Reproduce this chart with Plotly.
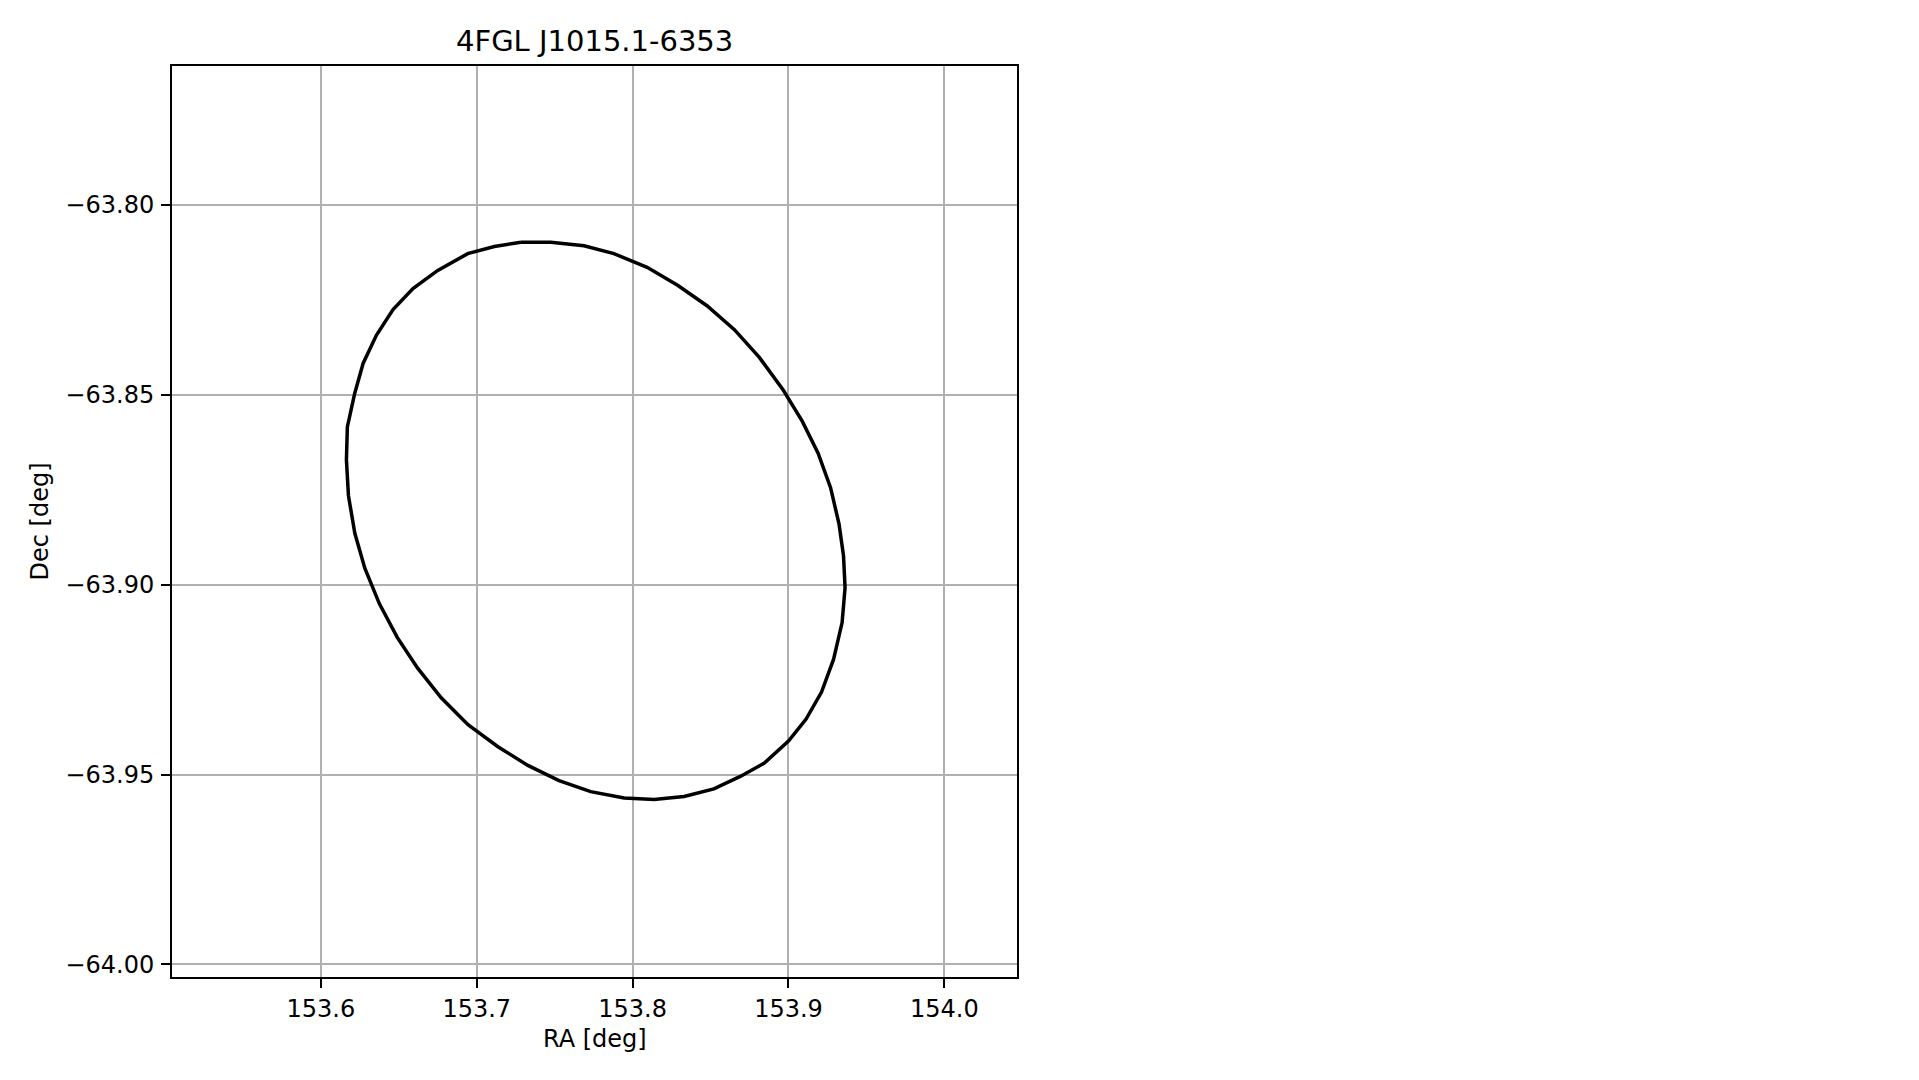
import plotly.graph_objects as go

title_text = "4FGL J1015.1-6353"

ra_deg = [153.7283, 153.7475, 153.7688, 153.7880, 153.8093, 153.8291, 153.8477, 153.8653,
          153.8813, 153.8966, 153.9088, 153.9190, 153.9270, 153.9324, 153.9353, 153.9363,
          153.9344, 153.9289, 153.9212, 153.9113, 153.9000, 153.8845, 153.8691, 153.8521,
          153.8330, 153.8138, 153.7946, 153.7731, 153.7528, 153.7328, 153.7136, 153.6944,
          153.6772, 153.6621, 153.6490, 153.6375, 153.6282, 153.6218, 153.6177, 153.6164,
          153.6170, 153.6217, 153.6271, 153.6356, 153.6463, 153.6591, 153.6750, 153.6942,
          153.7113, 153.7283]
dec_deg = [-63.8099, -63.8099, -63.8108, -63.8129, -63.8165, -63.8213, -63.8266, -63.8329,
           -63.8402, -63.8488, -63.8570, -63.8654, -63.8745, -63.8840, -63.8924, -63.9008,
           -63.9100, -63.9197, -63.9283, -63.9354, -63.9412, -63.9470, -63.9505, -63.9538,
           -63.9558, -63.9566, -63.9562, -63.9545, -63.9516, -63.9476, -63.9427, -63.9369,
           -63.9298, -63.9220, -63.9139, -63.9050, -63.8957, -63.8865, -63.8766, -63.8672,
           -63.8585, -63.8497, -63.8418, -63.8344, -63.8276, -63.8221, -63.8173, -63.8129,
           -63.8110, -63.8099]

x_tickvals = [153.6, 153.7, 153.8, 153.9, 154.0]
x_ticktext = ["153.6", "153.7", "153.8", "153.9", "154.0"]
y_tickvals = [-63.80, -63.85, -63.90, -63.95, -64.00]
y_ticktext = ["\u221263.80", "\u221263.85", "\u221263.90", "\u221263.95", "\u221264.00"]

x_range = [153.5045, 154.0466]
y_range = [-64.0033, -63.7635]

FONT = "DejaVu Sans"

fig = go.Figure()
fig.add_trace(go.Scatter(
    x=ra_deg, y=dec_deg, mode="lines",
    line=dict(color="black", width=3.5),
    showlegend=False, hoverinfo="skip",
))

axis_common = dict(
    showline=True, linecolor="black", linewidth=2, mirror=True,
    showgrid=True, gridcolor="#b0b0b0", gridwidth=2,
    zeroline=False,
    ticks="outside", ticklen=9, tickwidth=2, tickcolor="black",
    tickfont=dict(family=FONT, size=24, color="black"),
)

fig.update_layout(
    width=1919, height=1080,
    paper_bgcolor="white", plot_bgcolor="white",
    margin=dict(l=164, r=910, t=58, b=111),
    font=dict(family=FONT, color="black"),
    xaxis=dict(range=x_range, tickvals=x_tickvals, ticktext=x_ticktext,
               ticklabelstandoff=0, **axis_common),
    yaxis=dict(range=y_range, tickvals=y_tickvals, ticktext=y_ticktext,
               ticklabelstandoff=2, **axis_common),
    annotations=[
        dict(text=title_text, xref="paper", yref="paper", x=0.5, y=1,
             yshift=25, showarrow=False, xanchor="center", yanchor="middle",
             font=dict(family=FONT, size=29, color="black")),
        dict(text="RA [deg]", xref="paper", yref="paper", x=0.5, y=0,
             yshift=-62, showarrow=False, xanchor="center", yanchor="middle",
             font=dict(family=FONT, size=24, color="black")),
        dict(text="Dec [deg]", xref="paper", yref="paper", x=0, y=0.5,
             xshift=-133, showarrow=False, xanchor="center", yanchor="middle",
             textangle=-90, font=dict(family=FONT, size=24, color="black")),
    ],
)

fig.write_html("out.html")
